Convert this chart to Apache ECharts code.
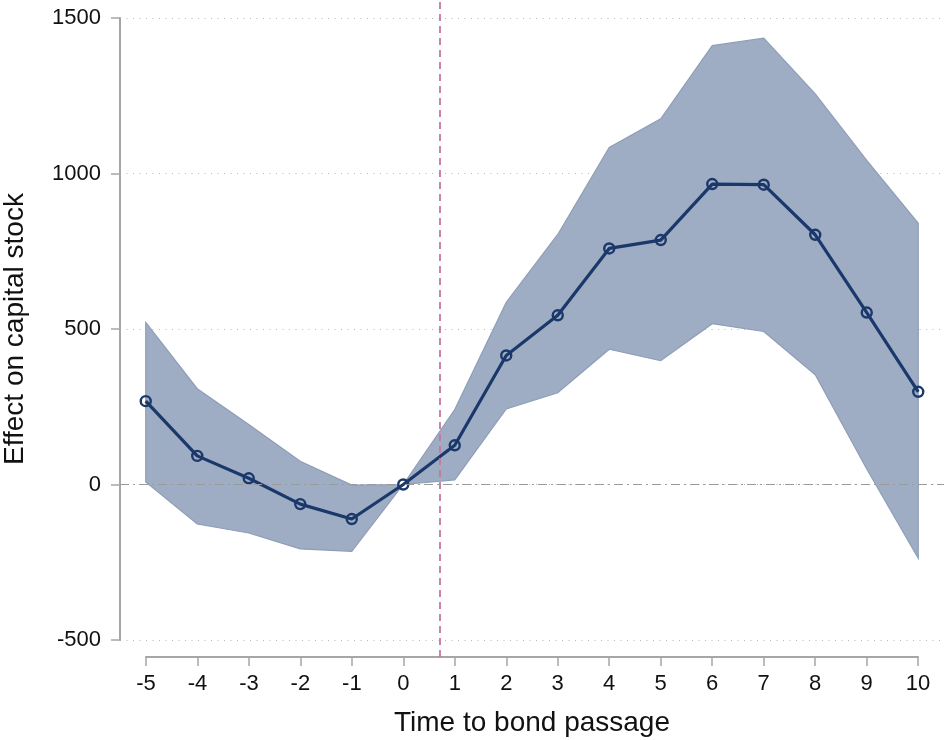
<!DOCTYPE html>
<html>
<head>
<meta charset="utf-8">
<script src="https://cdn.jsdelivr.net/npm/echarts@6/dist/echarts.min.js"></script>
<style>
  html, body { margin: 0; padding: 0; background: #fff; }
  #chart { width: 944px; height: 740px; }
</style>
</head>
<body>
<div id="chart"></div>
<script>
// Event-study estimates: effect on capital stock by year relative to bond passage
const periods  = [-5, -4, -3, -2, -1, 0, 1, 2, 3, 4, 5, 6, 7, 8, 9, 10];
const estimate = [268, 92, 20, -63, -111, 0, 126, 415, 544, 759, 786, 966, 964, 803, 553, 298];
const ciUpper  = [521, 308, 193, 75, -2, 0, 241, 586, 804, 1084, 1176, 1411, 1435, 1256, 1042, 840];
const ciLower  = [8, -127, -156, -207, -215, 0, 15, 243, 295, 435, 398, 517, 492, 353, 50, -237];
const yTicks   = [-500, 0, 500, 1000, 1500];
const refLineX = 0.71;

const FONT = '"Liberation Sans", Arial, Helvetica, sans-serif';
const GRID_TOP = 18, GRID_BOTTOM = 100;

const estPoints = periods.map((p, i) => [p, estimate[i]]);
const bandPoints = periods.map((p, i) => [p, ciLower[i], ciUpper[i]]);

const chart = echarts.init(document.getElementById('chart'), null, { renderer: 'canvas' });

chart.setOption({
  animation: false,
  backgroundColor: '#ffffff',
  grid: [
    // plot region
    { left: 120, right: 0, top: GRID_TOP, bottom: GRID_BOTTOM, outerBoundsMode: 'none', containLabel: false },
    // visible x axis, spanning only the tick range
    { left: 146, right: 26, top: GRID_TOP, bottom: GRID_BOTTOM, outerBoundsMode: 'none', containLabel: false },
    // taller strip for the vertical event line (runs from the top edge to the x axis)
    { left: 120, right: 0, top: 0, bottom: 83, outerBoundsMode: 'none', containLabel: false }
  ],
  xAxis: [
    {
      gridIndex: 0, type: 'value', min: -5.5, max: 10.5,
      show: false, splitLine: { show: false }
    },
    {
      gridIndex: 1, type: 'value', min: -5, max: 10, interval: 1,
      offset: 17,
      name: 'Time to bond passage',
      nameLocation: 'middle',
      nameGap: 52,
      nameTextStyle: { fontFamily: FONT, fontSize: 28, color: '#111' },
      axisLine: { show: true, onZero: false, lineStyle: { color: '#a6a6a6', width: 2 } },
      axisTick: { show: true, length: 9, lineStyle: { color: '#a6a6a6', width: 1.5 } },
      axisLabel: { fontFamily: FONT, fontSize: 22, color: '#111', margin: 16 },
      splitLine: { show: false }
    },
    {
      gridIndex: 2, type: 'value', min: -5.5, max: 10.5,
      show: false, splitLine: { show: false }
    }
  ],
  yAxis: [
    {
      gridIndex: 0, type: 'value', min: -500, max: 1500, interval: 500,
      name: 'Effect on capital stock',
      nameLocation: 'middle',
      nameGap: 91,
      nameTextStyle: { fontFamily: FONT, fontSize: 28, color: '#111' },
      axisLine: { show: true, onZero: false, lineStyle: { color: '#a6a6a6', width: 2 } },
      axisTick: { show: true, length: 9, lineStyle: { color: '#a6a6a6', width: 1.5 } },
      axisLabel: {
        fontFamily: FONT, fontSize: 22, color: '#111', margin: 19,
        formatter: v => (yTicks.indexOf(v) >= 0 ? String(v) : '')
      },
      splitLine: { show: true, lineStyle: { color: '#b8b8b8', width: 1, type: [1, 5.5] } }
    },
    {
      gridIndex: 1, type: 'value', min: -500, max: 1500, show: false,
      splitLine: { show: false }
    },
    {
      gridIndex: 2, type: 'value', min: 0, max: 1, show: false,
      splitLine: { show: false }
    }
  ],
  series: [
    {
      // confidence band polygon
      type: 'custom',
      xAxisIndex: 0, yAxisIndex: 0,
      data: bandPoints,
      z: 1,
      renderItem: function (params, api) {
        if (params.dataIndex !== 0) return null;
        const upper = bandPoints.map(d => api.coord([d[0], d[2]]));
        const lower = bandPoints.map(d => api.coord([d[0], d[1]])).reverse();
        return {
          type: 'polygon',
          shape: { points: upper.concat(lower) },
          style: { fill: '#9eadc3', stroke: '#8d9eb7', lineWidth: 1.2 }
        };
      },
      silent: true
    },
    {
      // zero reference line
      type: 'line',
      xAxisIndex: 0, yAxisIndex: 0,
      data: [],
      z: 2,
      markLine: {
        silent: true,
        symbol: ['none', 'none'],
        label: { show: false },
        data: [
          { yAxis: 0, lineStyle: { color: '#9a9a9a', width: 1.2, type: [9, 4, 2, 4] } }
        ]
      }
    },
    {
      // event-timing reference line
      type: 'line',
      xAxisIndex: 2, yAxisIndex: 2,
      data: [],
      z: 2,
      markLine: {
        silent: true,
        symbol: ['none', 'none'],
        label: { show: false },
        data: [
          { xAxis: refLineX, lineStyle: { color: '#c0799f', width: 1.8, type: [7, 5] } }
        ]
      }
    },
    {
      type: 'line',
      xAxisIndex: 0, yAxisIndex: 0,
      data: estPoints,
      z: 3,
      symbol: 'circle',
      symbolSize: 10,
      showAllSymbol: true,
      lineStyle: { color: '#1b386b', width: 3.2 },
      itemStyle: { color: 'rgba(0,0,0,0)', borderColor: '#1b386b', borderWidth: 2.4 }
    }
  ]
});
</script>
</body>
</html>
